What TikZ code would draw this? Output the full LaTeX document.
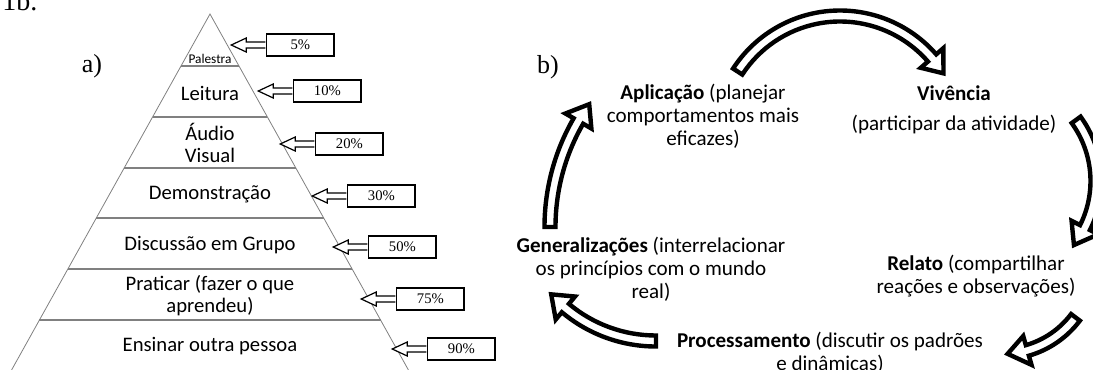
\documentclass[tikz,border=0pt]{standalone}
\usepackage{fontspec}
\setmainfont{Carlito}
\newfontfamily\timesfont{Liberation Serif}

\begin{document}
\begin{tikzpicture}[x=0.75pt, y=-0.75pt,
	pyr/.style={draw=gray, line width=0.6pt},
	sep/.style={draw=gray, line width=1.1pt},
	level/.style={font=\fontsize{15.5}{16.5}\selectfont, align=center, inner sep=0pt},
	pct/.style={draw, line width=1.1pt, minimum width=50.5pt, minimum height=16.5pt, inner sep=0pt, font=\timesfont\fontsize{11}{13}\selectfont},
	pctarrow/.style={draw, line width=0.9pt, fill=white, line join=miter},
	stage/.style={font=\fontsize{15.8}{17.4}\selectfont, align=center, inner sep=0pt},
	bigarrow/.style={draw, line width=3.3pt, fill=white, line join=miter},
	tag/.style={font=\timesfont\fontsize{19.5}{22}\selectfont, inner sep=0pt}]
					\useasboundingbox (0,0) rectangle (1093,369);
					\node[tag, font=\timesfont\fontsize{21}{24}\selectfont, anchor=base west] (fig) at (2,10) {1b.};
					\node[tag] (la) at (92,66) {a)};
					\node[tag] (lb) at (548,67) {b)};
					\draw[pyr] (6,380) -- (210,14) -- (414,380);
					\foreach \y in {66,117,168,218,269,320}
						\draw[sep] ({210-0.5577*(\y-14)},\y) -- ({210+0.5577*(\y-14)},\y);
					\node[level, font=\fontsize{10}{12}\selectfont] (pal) at (210,59) {Palestra};
					\node[level] (lei) at (210,93) {Leitura};
					\node[level] (aud) at (210,143) {Áudio\\Visual};
					\node[level] (dem) at (210,194) {Demonstração};
					\node[level] (dis) at (210,245) {Discussão em Grupo};
					\node[level] (pra) at (210,296) {Praticar (fazer o que\\aprendeu)};
					\node[level] (ens) at (210,346) {Ensinar outra pessoa};
					\foreach \y/\x/\v in {45/266/5,91/293/10,144/315/20,196/347/30,247/368/50,299/396/75,349/427/90}{
						\node[pct, anchor=west] (p\v) at (\x,\y) {\v\%};
						\draw[pctarrow] (p\v.west) ++(-0.75,-3) -- ++(-19,0) -- ++(0,-4) -- ++(-15,7) -- ++(15,7) -- ++(0,-4) -- ++(19,0);
					}
					\node[stage] (apl) at (703,116) {\textbf{Aplicação} (planejar\\comportamentos mais\\eficazes)};
					\node[stage] (viv) at (954,110) {\textbf{Vivência}\\[5pt](participar da atividade)};
					\node[stage] (rel) at (976,276) {\textbf{Relato} (compartilhar\\reações e observações)};
					\node[stage] (proc) at (830,353) {\textbf{Processamento} (discutir os padrões\\e dinâmicas)};
					\node[stage] (gen) at (651,269) {\textbf{Generalizações} (interrelacionar\\os princípios com o mundo\\real)};
					\foreach \cx/\cy/\r/\a/\b/\t in {840/138/122/213/319/328,992/181/104/324/386.6/398,1002/262/92/37/74/86.5,656/200/141/90/130/138,762/227/212/180/210/215.4}{
						\pgfmathsetmacro\ro{\r+5.5}
						\pgfmathsetmacro\ri{\r-5.5}
						\pgfmathsetmacro\ho{\r+15}
						\pgfmathsetmacro\hi{\r-15}
						\begin{scope}[shift={(\cx,\cy)}]
							\draw[bigarrow] (\a:\ro) arc[start angle=\a, end angle=\b, radius=\ro] -- (\b:\ho) -- (\t:\r) -- (\b:\hi) -- (\b:\ri) arc[start angle=\b, end angle=\a, radius=\ri] -- cycle;
						\end{scope}
					}
				\end{tikzpicture}
\end{document}
